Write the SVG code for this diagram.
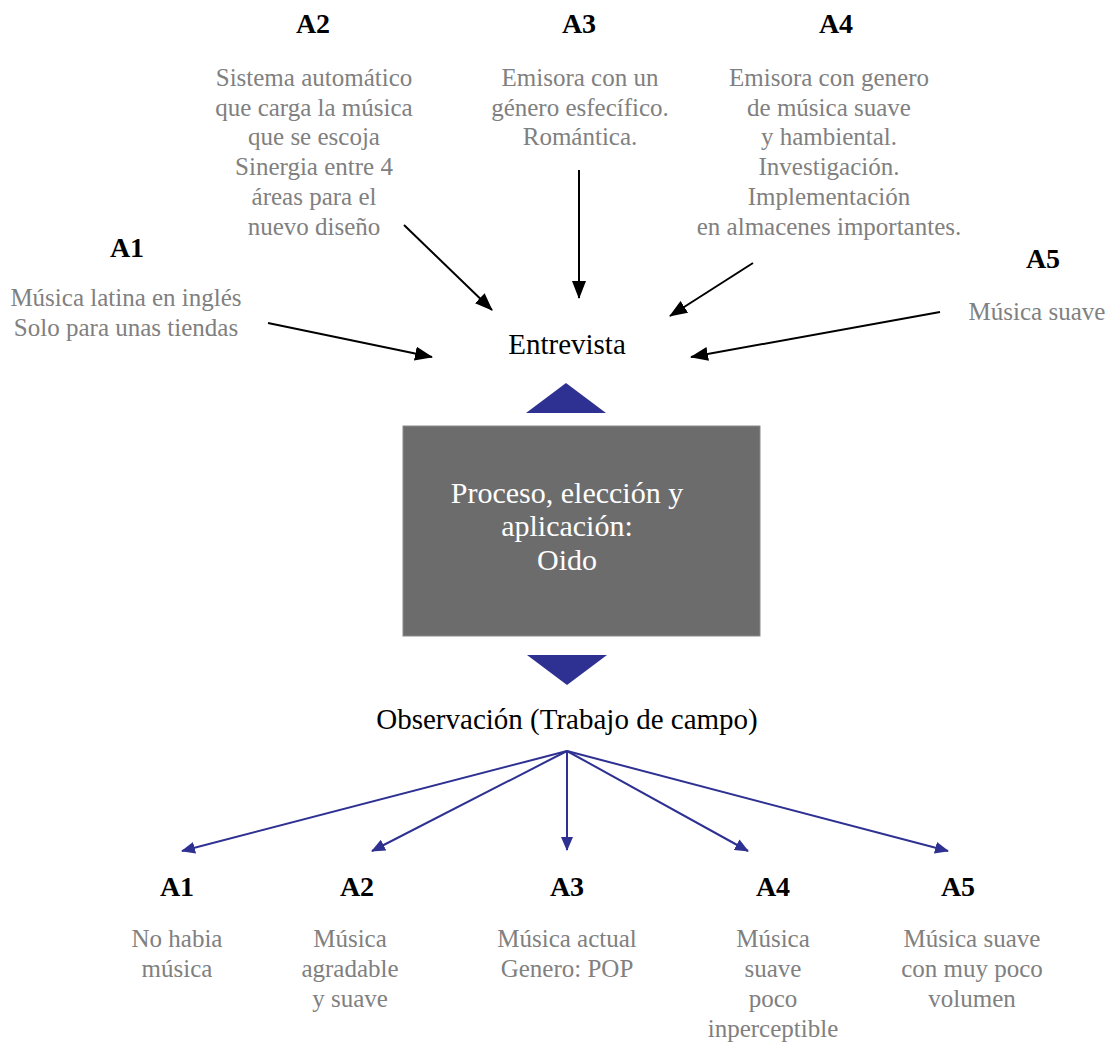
<svg xmlns="http://www.w3.org/2000/svg" width="1112" height="1043" viewBox="0 0 1112 1043">
<style>
text{font-family:"Liberation Serif","Times New Roman",serif;text-anchor:middle}
.h{font-weight:bold;font-size:28px;fill:#000}
.g{font-size:25px;fill:#808080}
.b{font-size:29px;fill:#000}
.w{font-size:30px;fill:#fff}
.k{stroke:#000;stroke-width:2;fill:none}
.u{stroke:#2e3192;stroke-width:2;fill:none}
.tri{fill:#2e3192}
</style>
<defs>
<marker id="ak" viewBox="0 0 18 14" refX="17" refY="7" markerWidth="18" markerHeight="14" markerUnits="userSpaceOnUse" orient="auto"><path d="M0,0 L18,7 L0,14 z" fill="#000"/></marker>
<marker id="au" viewBox="0 0 14 12" refX="13" refY="6" markerWidth="14" markerHeight="12" markerUnits="userSpaceOnUse" orient="auto"><path d="M0,0 L14,6 L0,12 z" fill="#2e3192"/></marker>
</defs>
<rect width="1112" height="1043" fill="#fff"/>

<g id="top-a1">
<text class="h" x="127" y="257">A1</text>
<text class="g" x="126" y="306">Música latina en inglés</text>
<text class="g" x="126" y="336">Solo para unas tiendas</text>
</g>
<g id="top-a2">
<text class="h" x="313" y="33">A2</text>
<text class="g" x="314" y="86">Sistema automático</text>
<text class="g" x="314" y="116">que carga la música</text>
<text class="g" x="314" y="145">que se escoja</text>
<text class="g" x="314" y="175">Sinergia entre 4</text>
<text class="g" x="314" y="205">áreas para el</text>
<text class="g" x="314" y="235">nuevo diseño</text>
</g>
<g id="top-a3">
<text class="h" x="579" y="33">A3</text>
<text class="g" x="580" y="86">Emisora con un</text>
<text class="g" x="580" y="116">género esfecífico.</text>
<text class="g" x="580" y="145">Romántica.</text>
</g>
<g id="top-a4">
<text class="h" x="836" y="33">A4</text>
<text class="g" x="829" y="86">Emisora con genero</text>
<text class="g" x="829" y="116">de música suave</text>
<text class="g" x="829" y="145">y hambiental.</text>
<text class="g" x="829" y="175">Investigación.</text>
<text class="g" x="829" y="205">Implementación</text>
<text class="g" x="829" y="235">en almacenes importantes.</text>
</g>
<g id="top-a5">
<text class="h" x="1043" y="268">A5</text>
<text class="g" x="1037" y="320">Música suave</text>
</g>

<g id="entrevista">
<text class="b" x="567" y="354">Entrevista</text>
</g>

<g id="proceso">
<polygon class="tri" points="566,383 526,413 606,413"/>
<rect x="403" y="426" width="357" height="210" fill="#6d6c6d" stroke="#8a898a" stroke-width="1"/>
<text class="w" x="567" y="503">Proceso, elección y</text>
<text class="w" x="567" y="536">aplicación:</text>
<text class="w" x="567" y="570">Oido</text>
<polygon class="tri" points="527,655 607,655 567,685"/>
</g>

<g id="observacion">
<text class="b" x="567" y="729">Observación (Trabajo de campo)</text>
</g>

<g id="connectors">
<line class="k" x1="268" y1="323" x2="432" y2="357" marker-end="url(#ak)"/>
<line class="k" x1="404" y1="225" x2="492" y2="310" marker-end="url(#ak)"/>
<line class="k" x1="579" y1="170" x2="579" y2="298" marker-end="url(#ak)"/>
<line class="k" x1="753" y1="263" x2="670" y2="316" marker-end="url(#ak)"/>
<line class="k" x1="940" y1="312" x2="691" y2="357" marker-end="url(#ak)"/>
<line class="u" x1="567" y1="751" x2="182" y2="851" marker-end="url(#au)"/>
<line class="u" x1="567" y1="751" x2="372" y2="851" marker-end="url(#au)"/>
<line class="u" x1="567" y1="751" x2="567" y2="850" marker-end="url(#au)"/>
<line class="u" x1="567" y1="751" x2="748" y2="851" marker-end="url(#au)"/>
<line class="u" x1="567" y1="751" x2="948" y2="851" marker-end="url(#au)"/>
</g>

<g id="bot-a1">
<text class="h" x="177" y="896">A1</text>
<text class="g" x="177" y="947">No habia</text>
<text class="g" x="177" y="977">música</text>
</g>
<g id="bot-a2">
<text class="h" x="357" y="896">A2</text>
<text class="g" x="350" y="947">Música</text>
<text class="g" x="350" y="977">agradable</text>
<text class="g" x="350" y="1007">y suave</text>
</g>
<g id="bot-a3">
<text class="h" x="567" y="896">A3</text>
<text class="g" x="567" y="947">Música actual</text>
<text class="g" x="567" y="977">Genero: POP</text>
</g>
<g id="bot-a4">
<text class="h" x="773" y="896">A4</text>
<text class="g" x="773" y="947">Música</text>
<text class="g" x="773" y="977">suave</text>
<text class="g" x="773" y="1007">poco</text>
<text class="g" x="773" y="1037">inperceptible</text>
</g>
<g id="bot-a5">
<text class="h" x="958" y="896">A5</text>
<text class="g" x="972" y="947">Música suave</text>
<text class="g" x="972" y="977">con muy poco</text>
<text class="g" x="972" y="1007">volumen</text>
</g>
</svg>
